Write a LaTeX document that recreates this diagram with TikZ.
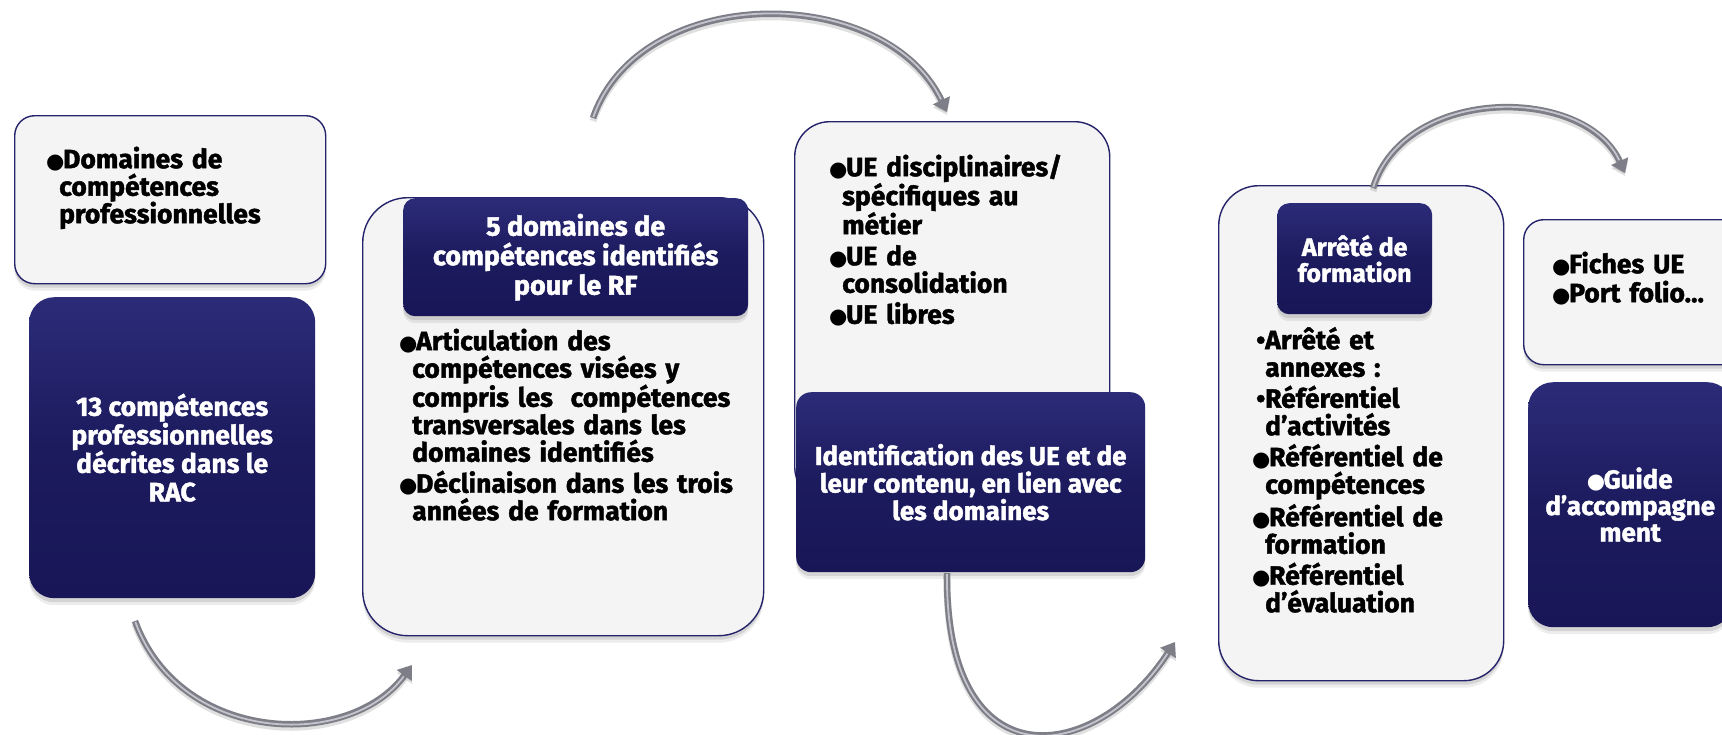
\documentclass[tikz,border=0pt]{standalone}
\usepackage{fontspec}
\setmainfont{Fira Sans}[BoldFeatures={FakeBold=1.6}]
\newfontfamily\dejavu{DejaVu Sans}
\usetikzlibrary{arrows.meta}
\definecolor{navy}{HTML}{1C1B5E}
\definecolor{navytop}{HTML}{2C2B78}
\definecolor{navybot}{HTML}{181657}
\definecolor{lightfill}{HTML}{F4F4F4}
\definecolor{lightedge}{HTML}{25236A}
\definecolor{arrowgray}{HTML}{7E7E88}
\definecolor{arrowhi}{HTML}{C4C4CC}
\newcommand\bigbul{\makebox[16pt][l]{\hspace{-1pt}\dejavu\fontsize{21pt}{21pt}\selectfont ●}}
\newcommand\smallbul{\makebox[12pt][l]{\hspace{3pt}\textbullet}}
\newcommand\bitem[2][\bigbul]{\par\hangindent=12pt\hangafter=1\noindent#1#2\par}
\newcommand\fl{\rule{0pt}{22pt}}
\newcommand\nl{\newline}
\tikzset{
  shadowed/.style={preaction={fill=black,opacity=0.10,transform canvas={yshift=-4pt}},
                   preaction={fill=black,opacity=0.07,transform canvas={yshift=-7pt}}},
  lightbox/.style={shadowed, draw=lightedge, line width=1.4pt, fill=lightfill, anchor=north west, inner sep=0pt},
  darkbox/.style={shadowed, top color=navytop, bottom color=navybot, middle color=navy, anchor=north west,
                  inner sep=0pt, text=white, align=center, font=\bfseries\fontsize{26pt}{28pt}\selectfont},
  listtext/.style={anchor=north west, inner sep=0pt, text width=#1, align=left,
                   font=\bfseries\fontsize{26.5pt}{27.5pt}\selectfont\setlength{\parskip}{3.5pt}},
  tube/.style={draw=arrowgray, line width=6.5pt, -{Triangle[length=13pt,width=18pt]},
               preaction={draw=black, opacity=0.12, line width=7pt, transform canvas={yshift=-3pt}}},
  tubehi/.style={draw=arrowhi, line width=1.8pt, shorten >=14pt, shorten <=1pt},
}
\begin{document}
\begin{tikzpicture}[x=1pt,y=-1pt]
\useasboundingbox (0,0) rectangle (1722,734);
\clip (0,0) rectangle (1722,734);
\fill[white] (0,0) rectangle (1722,734);

% column 1
\node[lightbox, minimum width=311pt, minimum height=168pt, rounded corners=20pt] (b1) at (14,115) {};
\node[listtext=270pt] (t1) at (47,137) {\bitem{\fl Domaines de\nl compétences\nl professionnelles}};
\node[darkbox, minimum width=286pt, minimum height=301pt, rounded corners=25pt,
      font=\bfseries\fontsize{26.5pt}{28.5pt}\selectfont] (d1) at (29,297)
  {13 compétences\\professionnelles\\décrites dans le\\RAC};

% column 2
\node[lightbox, minimum width=401pt, minimum height=438pt, rounded corners=45pt] (b2) at (362,197) {};
\node[darkbox, minimum width=345pt, minimum height=118pt, rounded corners=12pt,
      font=\bfseries\fontsize{27pt}{29.5pt}\selectfont] (d2) at (403,198)
  {5 domaines de\\compétences identifiés\\pour le RF};
\node[listtext=345pt] (t2) at (400,319)
  {\bitem{\fl Articulation des\nl compétences visées y\nl compris les~ compétences\nl transversales dans les\nl domaines identifiés}
   \bitem{Déclinaison dans les trois\nl années de formation}};

% column 3
\node[lightbox, minimum width=315pt, minimum height=380pt, rounded corners=35pt] (b3) at (794,121) {};
\node[listtext=270pt] (t3) at (830,145)
  {\bitem{\fl UE disciplinaires/\nl spécifiques au\nl métier}
   \bitem{UE de\nl consolidation}
   \bitem{UE libres}};
\node[darkbox, minimum width=349pt, minimum height=180pt, rounded corners=15pt,
      font=\bfseries\fontsize{26pt}{27.5pt}\selectfont] (d3) at (796,392)
  {Identification des UE et de\\leur contenu, en lien avec\\les domaines};

% column 4
\node[lightbox, minimum width=285pt, minimum height=495pt, rounded corners=40pt] (b4) at (1218,185) {};
\node[darkbox, minimum width=155pt, minimum height=111pt, rounded corners=12pt,
      font=\bfseries\fontsize{25pt}{26pt}\selectfont] (d4) at (1277,203)
  {Arrêté de\\formation};
\node[listtext=235pt] (t4) at (1253,318)
  {\bitem[\smallbul]{\fl Arrêté et\nl annexes :}
   \bitem[\smallbul]{Référentiel\nl d’activités}
   \bitem{Référentiel de\nl compétences}
   \bitem{Référentiel de\nl formation}
   \bitem{Référentiel\nl d’évaluation}};

% column 5
\node[lightbox, minimum width=230pt, minimum height=145pt, rounded corners=20pt] (b5) at (1523,219) {};
\node[listtext=180pt, font=\bfseries\fontsize{26.5pt}{29pt}\selectfont] (t5) at (1553,244)
  {\bitem{\fl Fiches UE}\bitem{Port folio…}};
\node[darkbox, minimum width=204pt, minimum height=245pt, rounded corners=25pt,
      font=\bfseries\fontsize{26pt}{26.5pt}\selectfont] (d6) at (1528,382)
  {\bigbul Guide\\d’accompagne\\ment};

% arrows
\coordinate (a1s) at (135,621); \coordinate (a1e) at (412,665);
\coordinate (a2s) at (593,118); \coordinate (a2e) at (947,112);
\coordinate (a3s) at (947,573); \coordinate (a3e) at (1175,642);
\coordinate (a4s) at (1373,188); \coordinate (a4e) at (1625,173);

\draw[tube] (a1s) .. controls (180,745) and (350,750) .. (a1e);
\draw[tubehi] (a1s) .. controls (180,745) and (350,750) .. (a1e);
\draw[tube] (a2s) .. controls (640,-18) and (885,-18) .. (a2e);
\draw[tubehi] (a2s) .. controls (640,-18) and (885,-18) .. (a2e);
\draw[tube] (a3s) .. controls (945,785) and (1095,765) .. (a3e);
\draw[tubehi] (a3s) .. controls (945,785) and (1095,765) .. (a3e);
\draw[tube] (a4s) .. controls (1405,85) and (1585,85) .. (a4e);
\draw[tubehi] (a4s) .. controls (1405,85) and (1585,85) .. (a4e);
\end{tikzpicture}
\end{document}
